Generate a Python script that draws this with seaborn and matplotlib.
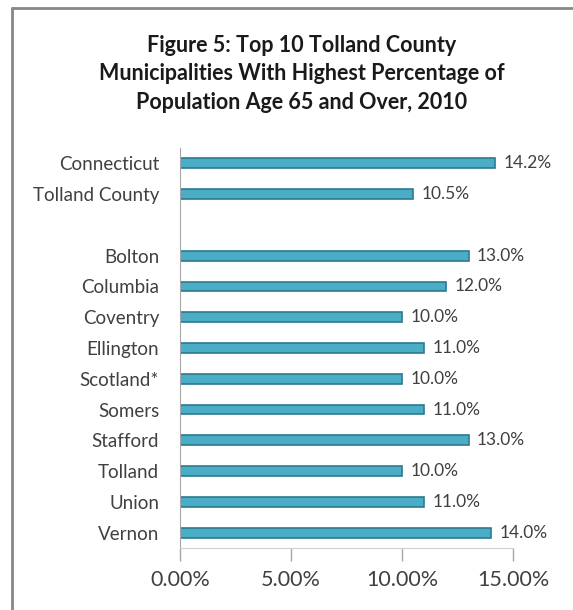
import matplotlib
matplotlib.use("Agg")
import matplotlib.pyplot as plt
import seaborn as sns
import pandas as pd
import numpy as np
from matplotlib.lines import Line2D

categories = ["Connecticut", "Tolland County", " ", "Bolton", "Columbia", "Coventry",
              "Ellington", "Scotland*", "Somers", "Stafford", "Tolland", "Union", "Vernon"]
values = [14.2, 10.5, np.nan, 13.0, 12.0, 10.0, 11.0, 10.0, 11.0, 13.0, 10.0, 11.0, 14.0]
xticks = [0, 5, 10, 15]
xtick_labels = ["0.00%", "5.00%", "10.00%", "15.00%"]
title = "Figure 5: Top 10 Tolland County\nMunicipalities With Highest Percentage of\nPopulation Age 65 and Over, 2010"

sns.set_style("white")
plt.rcParams["font.family"] = ["Lato", "DejaVu Sans"]

df = pd.DataFrame({"place": categories, "pct": values})

fig = plt.figure(figsize=(5.73, 6.10), dpi=100)
ax = fig.add_axes([180/573, 1-548/610, (513-180)/573, 400/610])

sns.barplot(data=df, x="pct", y="place", order=categories, orient="h",
            color="#4bacc6", width=0.32, saturation=1, ax=ax,
            edgecolor="#2b7a8f", linewidth=1.2)

for c in ax.containers:
    labels = ["" if np.isnan(v) else f"{v:.1f}%" for v in c.datavalues]
    ax.bar_label(c, labels=labels, padding=6, fontsize=12.5, color="#404040")

ax.set_xlim(0, 15)
ax.set_xticks(xticks)
ax.set_xticklabels(xtick_labels, fontsize=15.5, color="#404040")
ax.set_xlabel("")
ax.set_ylabel("")
ax.tick_params(axis="y", labelsize=13.5, labelcolor="#404040", length=0, pad=15)
ax.tick_params(axis="x", length=9, width=1, color="#a6a6a6", direction="out", pad=7, bottom=True)
for s in ["top", "right"]:
    ax.spines[s].set_visible(False)
ax.spines["left"].set_color("#a6a6a6")
ax.spines["bottom"].set_color("#d0d0d0")

fig.text(302/573, 1-74/610, title, ha="center", va="center", fontsize=15.5,
         fontweight="bold", color="#1a1a1a", linespacing=1.45)

fig.add_artist(Line2D([12/573, 1], [1-8/610, 1-8/610], color="#888888", lw=2, transform=fig.transFigure))
fig.add_artist(Line2D([12/573, 12/573], [0, 1-8/610], color="#888888", lw=2, transform=fig.transFigure))

fig.savefig("out.png", dpi=100)
